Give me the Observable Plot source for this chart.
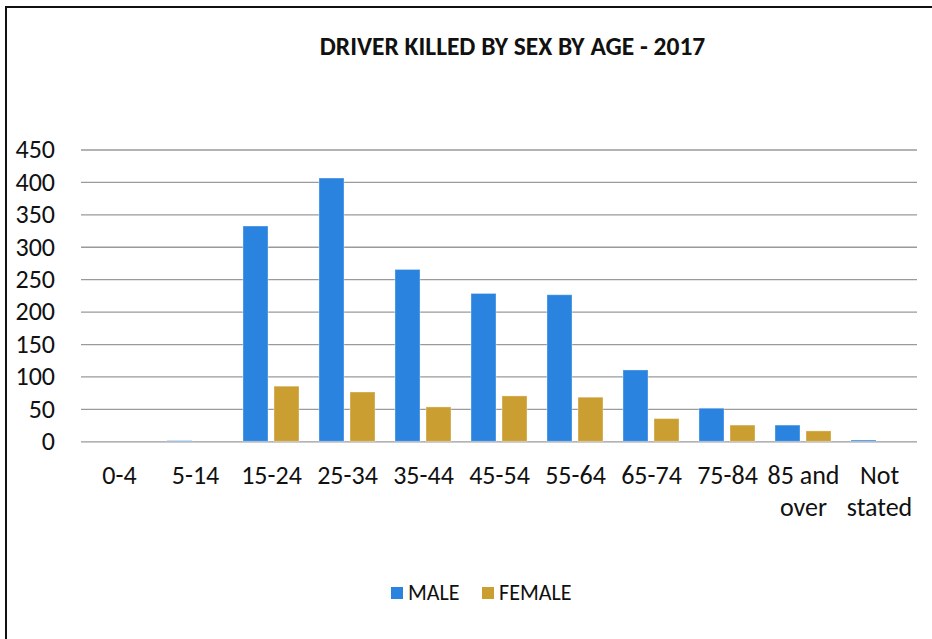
<!DOCTYPE html>
<html>
<head>
<meta charset="utf-8">
<script src="https://cdn.jsdelivr.net/npm/d3@7"></script>
<script src="https://cdn.jsdelivr.net/npm/@observablehq/plot@0.6"></script>
<style>
  html, body { margin: 0; padding: 0; background: #fff; width: 932px; height: 639px; overflow: hidden; }
  body { position: relative; font-family: Carlito, Calibri, "Liberation Sans Narrow", "Open Sans", sans-serif; }
  #frame { position: absolute; left: 5px; top: 6px; width: 960px; height: 700px; border: 2px solid #111; box-sizing: border-box; }
  #title { position: absolute; left: 0; width: 1025px; top: 31px; text-align: center; font-weight: bold; font-size: 25.5px; color: #111; white-space: nowrap; }
  #chart { position: absolute; left: 0; top: 0; }
  #legend { position: absolute; top: 578px; left: 0; width: 962px; text-align: center; font-size: 22px; color: #111; }
  #legend span.item { display: inline-flex; align-items: center; margin: 0 11px; }
  #legend span.sw { display: inline-block; width: 12.5px; height: 12.5px; margin-right: 5px; }
</style>
</head>
<body>
<div id="frame"></div>
<div id="title">DRIVER KILLED BY SEX BY AGE - 2017</div>
<div id="chart"></div>
<div id="legend"></div>
<script>
const ageGroups = ["0-4", "5-14", "15-24", "25-34", "35-44", "45-54", "55-64", "65-74", "75-84", "85 and over", "Not stated"];
const ageLabels = ["0-4", "5-14", "15-24", "25-34", "35-44", "45-54", "55-64", "65-74", "75-84", "85 and\nover", "Not\nstated"];
const sexes = ["MALE", "FEMALE"];
const male = [0, 1, 332, 406, 265, 228, 226, 110, 51, 25, 2];
const female = [0, 0, 85, 76, 53, 70, 68, 35, 25, 16, 0];
const yTicks = [0, 50, 100, 150, 200, 250, 300, 350, 400, 450];
const colors = ["#2983DF", "#CA9E30"];

const rows = [];
ageGroups.forEach((a, i) => {
  rows.push({age: a, sex: "MALE", value: male[i]});
  rows.push({age: a, sex: "FEMALE", value: female[i]});
});
const labelOf = new Map(ageGroups.map((a, i) => [a, ageLabels[i]]));

const chart = Plot.plot({
  width: 932,
  height: 530,
  marginLeft: 80,
  marginRight: 14,
  marginTop: 149.5,
  marginBottom: 88.7,
  style: {fontFamily: 'Carlito, Calibri, "Liberation Sans Narrow", "Open Sans", sans-serif', fontSize: "26px", color: "#111", background: "transparent"},
  fx: {domain: ageGroups, padding: 0, label: null},
  x: {domain: sexes, paddingInner: 0.19, paddingOuter: 0.31, axis: null},
  y: {domain: [0, 450], label: null, ticks: yTicks},
  color: {domain: sexes, range: colors},
  marks: [
    Plot.ruleY(yTicks, {stroke: "#9a9a9a", strokeWidth: 1.3}),
    Plot.barY(rows, {fx: "age", x: "sex", y: "value", fill: "sex", stroke: "#ffffff", strokeOpacity: 0.35, strokeWidth: 1}),
    Plot.axisY({ticks: yTicks, tickSize: 0, tickPadding: 26.5, fontSize: 26}),
    Plot.axisFx({anchor: "bottom", tickSize: 0, tickPadding: 19, fontSize: 26, lineHeight: 1.25, tickFormat: d => labelOf.get(d), label: null})
  ]
});
document.getElementById("chart").appendChild(chart);

const legend = document.getElementById("legend");
sexes.forEach((s, i) => {
  const item = document.createElement("span");
  item.className = "item";
  const sw = document.createElement("span");
  sw.className = "sw";
  sw.style.background = colors[i];
  item.appendChild(sw);
  item.appendChild(document.createTextNode(s));
  legend.appendChild(item);
});
</script>
</body>
</html>
